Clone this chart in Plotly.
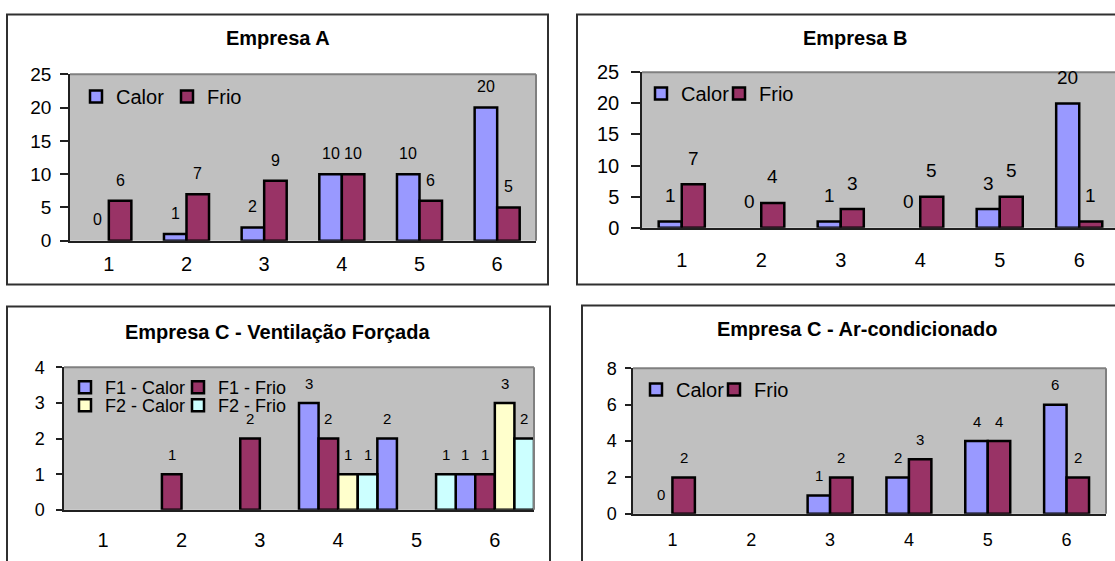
import plotly.graph_objects as go

W, H = 1115, 561
FONT = "Liberation Sans, Arial, sans-serif"

categorias = [1, 2, 3, 4, 5, 6]

# Empresa A
a_calor = [0, 1, 2, 10, 10, 20]
a_frio = [6, 7, 9, 10, 6, 5]

# Empresa B
b_calor = [1, 0, 1, 0, 3, 20]
b_frio = [7, 4, 3, 5, 5, 1]

# Empresa C - Ventilação Forçada (células vazias = None)
cv_f1_calor = [None, None, None, 3, 2, 1]
cv_f1_frio = [None, 1, 2, 2, None, 1]
cv_f2_calor = [None, None, None, 1, None, 3]
cv_f2_frio = [None, None, None, 1, 1, 2]

# Empresa C - Ar-condicionado
ca_calor = [0, None, 1, 2, 4, 6]
ca_frio = [2, None, 2, 3, 4, 2]

COR_CALOR = "#9999FF"
COR_FRIO = "#993366"
COR_F2_CALOR = "#FFFFCC"
COR_F2_FRIO = "#CCFFFF"

# posicionamento vertical dos painéis (pixels de layout)
Y0, YK = 9.5, 0.964


def ypx(p):
    return (p - Y0) / YK


def fx(p):
    return p / W


def fy(p):
    return 1 - ypx(p) / H


paineis = [
    dict(
        titulo="Empresa A", title_xy=(277.5, 37), frame=(7, 13, 548, 284),
        plot=(70, 73, 536, 240), borda_dir=True,
        xrange=[0.5, 6.5], yrange=[0, 25], dtick=5,
        series=[("Calor", a_calor, COR_CALOR), ("Frio", a_frio, COR_FRIO)],
        largura=0.29, fonte_rot=16, desloc_rot=20, fonte_y=19, fonte_x=20,
        ticklen=8, standoff_y=5, standoff_x=5,
        legendas=[dict(x=76, yc=96, entry=46, size=20, items=[0, 1])],
    ),
    dict(
        titulo="Empresa B", title_xy=(855, 37), frame=(577, 13, 1135, 284),
        plot=(642, 71, 1115, 227), borda_dir=False,
        xrange=[0.5, 6.45], yrange=[0, 25], dtick=5,
        series=[("Calor", b_calor, COR_CALOR), ("Frio", b_frio, COR_FRIO)],
        largura=0.29, fonte_rot=19, desloc_rot=25, fonte_y=20, fonte_x=20,
        ticklen=9, standoff_y=8, standoff_x=13,
        legendas=[dict(x=641, yc=93, entry=33, size=20, items=[0, 1])],
    ),
    dict(
        titulo="Empresa C - Ventilação Forçada", title_xy=(277, 332),
        frame=(7, 306, 550, 600), plot=(64, 367, 534, 510), borda_dir=True,
        xrange=[0.5, 6.5], yrange=[0, 4], dtick=1,
        series=[("F1 - Calor", cv_f1_calor, COR_CALOR), ("F1 - Frio", cv_f1_frio, COR_FRIO),
                ("F2 - Calor", cv_f2_calor, COR_F2_CALOR), ("F2 - Frio", cv_f2_frio, COR_F2_FRIO)],
        largura=0.25, fonte_rot=15, desloc_rot=19, fonte_y=18, fonte_x=20,
        ticklen=6, standoff_y=8, standoff_x=11,
        legendas=[dict(x=65, yc=387, entry=68, size=18, items=[0, 1]),
                  dict(x=65, yc=405, entry=68, size=18, items=[2, 3])],
    ),
    dict(
        titulo="Empresa C - Ar-condicionado", title_xy=(857, 329),
        frame=(582, 305, 1135, 600), plot=(633, 368, 1106, 514), borda_dir=True,
        xrange=[0.5, 6.5], yrange=[0, 8], dtick=2,
        series=[("Calor", ca_calor, COR_CALOR), ("Frio", ca_frio, COR_FRIO)],
        largura=0.285, fonte_rot=15, desloc_rot=19, fonte_y=18, fonte_x=18,
        ticklen=6, standoff_y=5, standoff_x=9,
        legendas=[dict(x=636, yc=390, entry=33, size=20, items=[0, 1])],
    ),
]

fig = go.Figure()
layout = dict(
    width=W, height=H, margin=dict(l=0, r=0, t=0, b=0),
    paper_bgcolor="white", plot_bgcolor="#C0C0C0",
    font=dict(family=FONT, color="black"),
    barmode="overlay", showlegend=True,
)
shapes, annotations = [], []
leg_idx = 0

for k, p in enumerate(paineis):
    n = k + 1
    xa = "xaxis" if n == 1 else f"xaxis{n}"
    ya = "yaxis" if n == 1 else f"yaxis{n}"
    xr = "x" if n == 1 else f"x{n}"
    yr = "y" if n == 1 else f"y{n}"
    x0, y0, x1, y1 = p["plot"]

    layout[xa] = dict(
        domain=[fx(x0), fx(x1)], range=p["xrange"], anchor=yr,
        tickvals=categorias, ticktext=[str(c) for c in categorias],
        showline=True, linecolor="#202020", linewidth=1.5, ticks="",
        showgrid=False, zeroline=False, fixedrange=True,
        tickfont=dict(size=p["fonte_x"]), ticklabelstandoff=p["standoff_x"],
    )
    layout[ya] = dict(
        domain=[fy(y1), fy(y0)], range=p["yrange"], dtick=p["dtick"], anchor=xr,
        showline=True, linecolor="#202020", linewidth=1.5,
        ticks="outside", ticklen=p["ticklen"], tickwidth=1.5, tickcolor="#202020",
        showgrid=False, zeroline=False, fixedrange=True,
        tickfont=dict(size=p["fonte_y"]), ticklabelstandoff=p["standoff_y"],
    )

    # moldura do gráfico
    fx0, fy0, fx1, fy1 = p["frame"]
    shapes.append(dict(type="rect", xref="paper", yref="paper",
                       x0=fx(fx0), x1=fx(fx1), y0=fy(fy1), y1=fy(fy0),
                       line=dict(color="#303030", width=2), layer="above"))
    # bordas superior e direita da área de plotagem
    shapes.append(dict(type="line", xref=f"{xr} domain", yref=f"{yr} domain",
                       x0=0, x1=1, y0=1, y1=1,
                       line=dict(color="#808080", width=2), layer="above"))
    if p["borda_dir"]:
        shapes.append(dict(type="line", xref=f"{xr} domain", yref=f"{yr} domain",
                           x0=1, x1=1, y0=0, y1=1,
                           line=dict(color="#808080", width=2), layer="above"))

    tx, ty = p["title_xy"]
    annotations.append(dict(
        text=f"<b>{p['titulo']}</b>", xref="paper", yref="paper",
        x=fx(tx), y=fy(ty), xanchor="center", yanchor="middle",
        showarrow=False, font=dict(size=20, family=FONT, color="black"),
    ))

    ns = len(p["series"])
    w = p["largura"]
    leg_of = {}
    for lg in p["legendas"]:
        leg_idx += 1
        lname = "legend" if leg_idx == 1 else f"legend{leg_idx}"
        for it in lg["items"]:
            leg_of[it] = lname
        topo = ypx(lg["yc"]) - (lg["size"] + 1)
        layout[lname] = dict(
            x=fx(lg["x"]), y=1 - topo / H, xanchor="left", yanchor="top",
            orientation="h", bgcolor="rgba(0,0,0,0)", borderwidth=0,
            font=dict(size=lg["size"], family=FONT, color="black"),
            entrywidth=lg["entry"], entrywidthmode="pixels",
            itemwidth=30, traceorder="normal", itemclick=False, itemdoubleclick=False,
        )

    for i, (nome, vals, cor) in enumerate(p["series"]):
        off = -ns * w / 2 + i * w
        # barras de valor zero ficam sem contorno (altura nula)
        contorno = [0 if v == 0 else 2.5 for v in vals]
        fig.add_trace(go.Bar(
            x=categorias, y=vals, name=nome, width=w, offset=off,
            marker=dict(color=cor, line=dict(color="black", width=contorno)),
            xaxis=xr, yaxis=yr, showlegend=False, hoverinfo="skip",
        ))
        # entrada de legenda da série
        fig.add_trace(go.Bar(
            x=[None], y=[None], name=nome,
            marker=dict(color=cor, line=dict(color="black", width=2.5)),
            xaxis=xr, yaxis=yr, legend=leg_of[i], showlegend=True, hoverinfo="skip",
        ))
        for c, v in zip(categorias, vals):
            if v is None:
                continue
            annotations.append(dict(
                text=str(v), x=c + off + w / 2, y=v, xref=xr, yref=yr,
                xanchor="center", yanchor="middle", yshift=p["desloc_rot"] / YK,
                showarrow=False, font=dict(size=p["fonte_rot"], family=FONT, color="black"),
            ))

layout["shapes"] = shapes
layout["annotations"] = annotations
fig.update_layout(**layout)
fig.write_html("out.html")
